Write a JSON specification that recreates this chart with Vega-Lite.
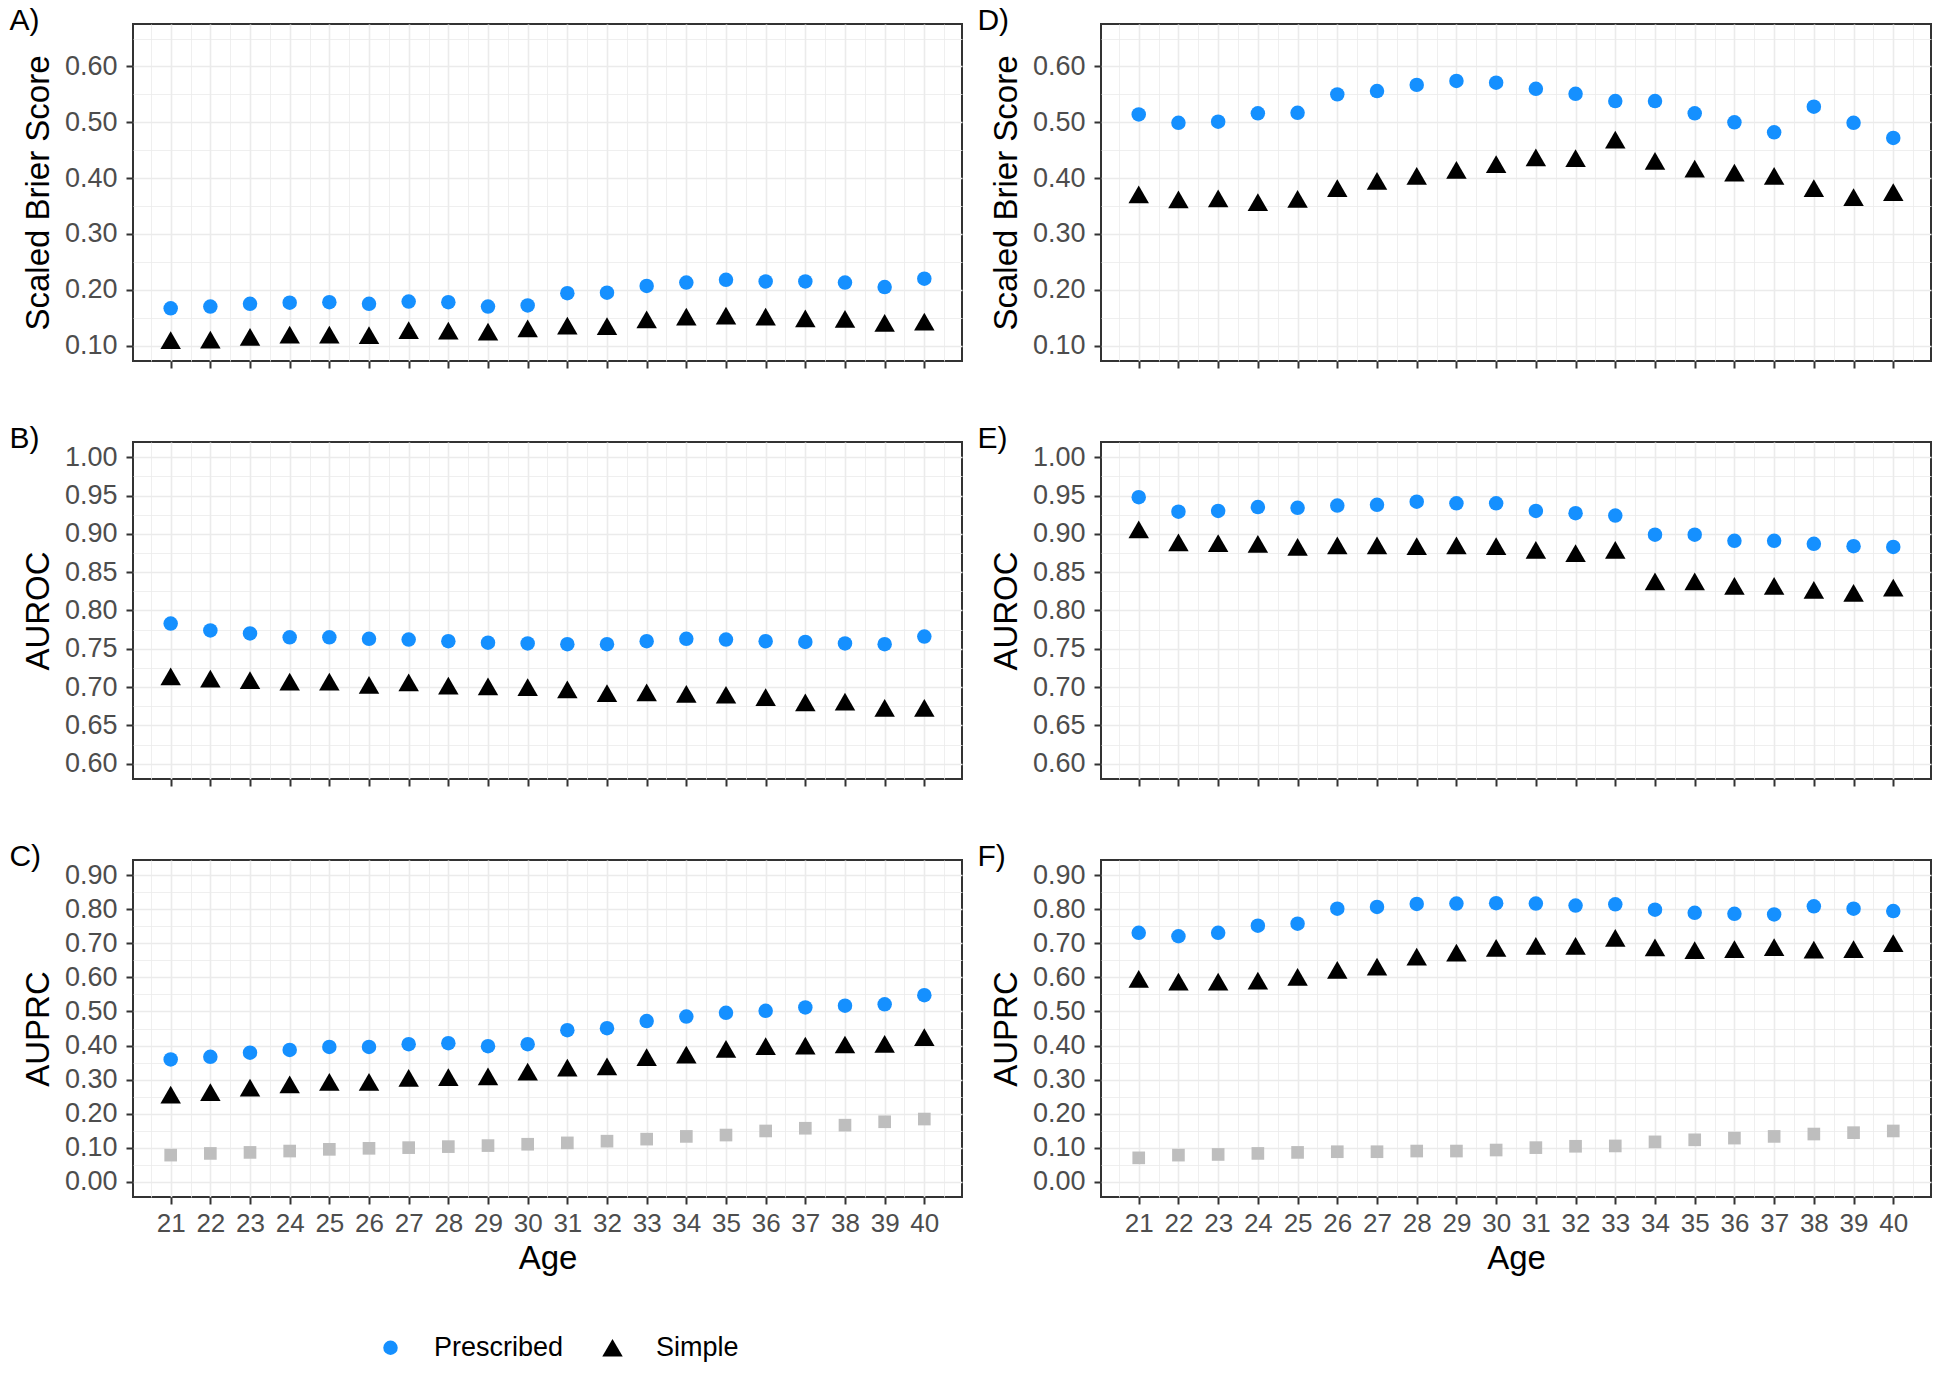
{
  "$schema": "https://vega.github.io/schema/vega-lite/v6.json",
  "background": "white",
  "padding": {"left": 8, "top": 5, "right": 10, "bottom": 5},
  "data": {"values": [
    {"p":"A","m":"Prescribed","a":21,"v":0.167},{"p":"A","m":"Prescribed","a":22,"v":0.170},{"p":"A","m":"Prescribed","a":23,"v":0.175},{"p":"A","m":"Prescribed","a":24,"v":0.177},{"p":"A","m":"Prescribed","a":25,"v":0.178},{"p":"A","m":"Prescribed","a":26,"v":0.175},{"p":"A","m":"Prescribed","a":27,"v":0.179},{"p":"A","m":"Prescribed","a":28,"v":0.178},{"p":"A","m":"Prescribed","a":29,"v":0.170},{"p":"A","m":"Prescribed","a":30,"v":0.172},{"p":"A","m":"Prescribed","a":31,"v":0.194},{"p":"A","m":"Prescribed","a":32,"v":0.195},{"p":"A","m":"Prescribed","a":33,"v":0.207},{"p":"A","m":"Prescribed","a":34,"v":0.213},{"p":"A","m":"Prescribed","a":35,"v":0.218},{"p":"A","m":"Prescribed","a":36,"v":0.215},{"p":"A","m":"Prescribed","a":37,"v":0.215},{"p":"A","m":"Prescribed","a":38,"v":0.213},{"p":"A","m":"Prescribed","a":39,"v":0.205},{"p":"A","m":"Prescribed","a":40,"v":0.220},
    {"p":"A","m":"Simple","a":21,"v":0.110},{"p":"A","m":"Simple","a":22,"v":0.111},{"p":"A","m":"Simple","a":23,"v":0.116},{"p":"A","m":"Simple","a":24,"v":0.120},{"p":"A","m":"Simple","a":25,"v":0.120},{"p":"A","m":"Simple","a":26,"v":0.119},{"p":"A","m":"Simple","a":27,"v":0.128},{"p":"A","m":"Simple","a":28,"v":0.127},{"p":"A","m":"Simple","a":29,"v":0.125},{"p":"A","m":"Simple","a":30,"v":0.131},{"p":"A","m":"Simple","a":31,"v":0.136},{"p":"A","m":"Simple","a":32,"v":0.135},{"p":"A","m":"Simple","a":33,"v":0.147},{"p":"A","m":"Simple","a":34,"v":0.152},{"p":"A","m":"Simple","a":35,"v":0.154},{"p":"A","m":"Simple","a":36,"v":0.152},{"p":"A","m":"Simple","a":37,"v":0.149},{"p":"A","m":"Simple","a":38,"v":0.148},{"p":"A","m":"Simple","a":39,"v":0.141},{"p":"A","m":"Simple","a":40,"v":0.143},
    {"p":"D","m":"Prescribed","a":21,"v":0.514},{"p":"D","m":"Prescribed","a":22,"v":0.499},{"p":"D","m":"Prescribed","a":23,"v":0.501},{"p":"D","m":"Prescribed","a":24,"v":0.516},{"p":"D","m":"Prescribed","a":25,"v":0.517},{"p":"D","m":"Prescribed","a":26,"v":0.550},{"p":"D","m":"Prescribed","a":27,"v":0.556},{"p":"D","m":"Prescribed","a":28,"v":0.567},{"p":"D","m":"Prescribed","a":29,"v":0.574},{"p":"D","m":"Prescribed","a":30,"v":0.571},{"p":"D","m":"Prescribed","a":31,"v":0.560},{"p":"D","m":"Prescribed","a":32,"v":0.551},{"p":"D","m":"Prescribed","a":33,"v":0.538},{"p":"D","m":"Prescribed","a":34,"v":0.538},{"p":"D","m":"Prescribed","a":35,"v":0.516},{"p":"D","m":"Prescribed","a":36,"v":0.500},{"p":"D","m":"Prescribed","a":37,"v":0.482},{"p":"D","m":"Prescribed","a":38,"v":0.528},{"p":"D","m":"Prescribed","a":39,"v":0.499},{"p":"D","m":"Prescribed","a":40,"v":0.472},
    {"p":"D","m":"Simple","a":21,"v":0.371},{"p":"D","m":"Simple","a":22,"v":0.362},{"p":"D","m":"Simple","a":23,"v":0.364},{"p":"D","m":"Simple","a":24,"v":0.357},{"p":"D","m":"Simple","a":25,"v":0.363},{"p":"D","m":"Simple","a":26,"v":0.382},{"p":"D","m":"Simple","a":27,"v":0.395},{"p":"D","m":"Simple","a":28,"v":0.404},{"p":"D","m":"Simple","a":29,"v":0.415},{"p":"D","m":"Simple","a":30,"v":0.425},{"p":"D","m":"Simple","a":31,"v":0.437},{"p":"D","m":"Simple","a":32,"v":0.436},{"p":"D","m":"Simple","a":33,"v":0.469},{"p":"D","m":"Simple","a":34,"v":0.431},{"p":"D","m":"Simple","a":35,"v":0.417},{"p":"D","m":"Simple","a":36,"v":0.410},{"p":"D","m":"Simple","a":37,"v":0.404},{"p":"D","m":"Simple","a":38,"v":0.382},{"p":"D","m":"Simple","a":39,"v":0.366},{"p":"D","m":"Simple","a":40,"v":0.375},
    {"p":"B","m":"Prescribed","a":21,"v":0.783},{"p":"B","m":"Prescribed","a":22,"v":0.774},{"p":"B","m":"Prescribed","a":23,"v":0.770},{"p":"B","m":"Prescribed","a":24,"v":0.765},{"p":"B","m":"Prescribed","a":25,"v":0.765},{"p":"B","m":"Prescribed","a":26,"v":0.763},{"p":"B","m":"Prescribed","a":27,"v":0.762},{"p":"B","m":"Prescribed","a":28,"v":0.760},{"p":"B","m":"Prescribed","a":29,"v":0.758},{"p":"B","m":"Prescribed","a":30,"v":0.757},{"p":"B","m":"Prescribed","a":31,"v":0.756},{"p":"B","m":"Prescribed","a":32,"v":0.756},{"p":"B","m":"Prescribed","a":33,"v":0.760},{"p":"B","m":"Prescribed","a":34,"v":0.763},{"p":"B","m":"Prescribed","a":35,"v":0.762},{"p":"B","m":"Prescribed","a":36,"v":0.760},{"p":"B","m":"Prescribed","a":37,"v":0.759},{"p":"B","m":"Prescribed","a":38,"v":0.757},{"p":"B","m":"Prescribed","a":39,"v":0.756},{"p":"B","m":"Prescribed","a":40,"v":0.766},
    {"p":"B","m":"Simple","a":21,"v":0.714},{"p":"B","m":"Simple","a":22,"v":0.711},{"p":"B","m":"Simple","a":23,"v":0.709},{"p":"B","m":"Simple","a":24,"v":0.707},{"p":"B","m":"Simple","a":25,"v":0.707},{"p":"B","m":"Simple","a":26,"v":0.703},{"p":"B","m":"Simple","a":27,"v":0.706},{"p":"B","m":"Simple","a":28,"v":0.702},{"p":"B","m":"Simple","a":29,"v":0.701},{"p":"B","m":"Simple","a":30,"v":0.700},{"p":"B","m":"Simple","a":31,"v":0.697},{"p":"B","m":"Simple","a":32,"v":0.692},{"p":"B","m":"Simple","a":33,"v":0.693},{"p":"B","m":"Simple","a":34,"v":0.691},{"p":"B","m":"Simple","a":35,"v":0.690},{"p":"B","m":"Simple","a":36,"v":0.687},{"p":"B","m":"Simple","a":37,"v":0.680},{"p":"B","m":"Simple","a":38,"v":0.681},{"p":"B","m":"Simple","a":39,"v":0.673},{"p":"B","m":"Simple","a":40,"v":0.673},
    {"p":"E","m":"Prescribed","a":21,"v":0.948},{"p":"E","m":"Prescribed","a":22,"v":0.929},{"p":"E","m":"Prescribed","a":23,"v":0.930},{"p":"E","m":"Prescribed","a":24,"v":0.935},{"p":"E","m":"Prescribed","a":25,"v":0.934},{"p":"E","m":"Prescribed","a":26,"v":0.937},{"p":"E","m":"Prescribed","a":27,"v":0.938},{"p":"E","m":"Prescribed","a":28,"v":0.942},{"p":"E","m":"Prescribed","a":29,"v":0.940},{"p":"E","m":"Prescribed","a":30,"v":0.940},{"p":"E","m":"Prescribed","a":31,"v":0.930},{"p":"E","m":"Prescribed","a":32,"v":0.927},{"p":"E","m":"Prescribed","a":33,"v":0.924},{"p":"E","m":"Prescribed","a":34,"v":0.899},{"p":"E","m":"Prescribed","a":35,"v":0.899},{"p":"E","m":"Prescribed","a":36,"v":0.891},{"p":"E","m":"Prescribed","a":37,"v":0.891},{"p":"E","m":"Prescribed","a":38,"v":0.887},{"p":"E","m":"Prescribed","a":39,"v":0.884},{"p":"E","m":"Prescribed","a":40,"v":0.883},
    {"p":"E","m":"Simple","a":21,"v":0.906},{"p":"E","m":"Simple","a":22,"v":0.889},{"p":"E","m":"Simple","a":23,"v":0.888},{"p":"E","m":"Simple","a":24,"v":0.887},{"p":"E","m":"Simple","a":25,"v":0.883},{"p":"E","m":"Simple","a":26,"v":0.885},{"p":"E","m":"Simple","a":27,"v":0.885},{"p":"E","m":"Simple","a":28,"v":0.884},{"p":"E","m":"Simple","a":29,"v":0.885},{"p":"E","m":"Simple","a":30,"v":0.884},{"p":"E","m":"Simple","a":31,"v":0.879},{"p":"E","m":"Simple","a":32,"v":0.875},{"p":"E","m":"Simple","a":33,"v":0.879},{"p":"E","m":"Simple","a":34,"v":0.838},{"p":"E","m":"Simple","a":35,"v":0.838},{"p":"E","m":"Simple","a":36,"v":0.832},{"p":"E","m":"Simple","a":37,"v":0.832},{"p":"E","m":"Simple","a":38,"v":0.827},{"p":"E","m":"Simple","a":39,"v":0.823},{"p":"E","m":"Simple","a":40,"v":0.830},
    {"p":"C","m":"Prescribed","a":21,"v":0.359},{"p":"C","m":"Prescribed","a":22,"v":0.367},{"p":"C","m":"Prescribed","a":23,"v":0.379},{"p":"C","m":"Prescribed","a":24,"v":0.387},{"p":"C","m":"Prescribed","a":25,"v":0.396},{"p":"C","m":"Prescribed","a":26,"v":0.396},{"p":"C","m":"Prescribed","a":27,"v":0.404},{"p":"C","m":"Prescribed","a":28,"v":0.407},{"p":"C","m":"Prescribed","a":29,"v":0.398},{"p":"C","m":"Prescribed","a":30,"v":0.404},{"p":"C","m":"Prescribed","a":31,"v":0.445},{"p":"C","m":"Prescribed","a":32,"v":0.451},{"p":"C","m":"Prescribed","a":33,"v":0.472},{"p":"C","m":"Prescribed","a":34,"v":0.485},{"p":"C","m":"Prescribed","a":35,"v":0.496},{"p":"C","m":"Prescribed","a":36,"v":0.502},{"p":"C","m":"Prescribed","a":37,"v":0.512},{"p":"C","m":"Prescribed","a":38,"v":0.517},{"p":"C","m":"Prescribed","a":39,"v":0.521},{"p":"C","m":"Prescribed","a":40,"v":0.548},
    {"p":"C","m":"Simple","a":21,"v":0.256},{"p":"C","m":"Simple","a":22,"v":0.263},{"p":"C","m":"Simple","a":23,"v":0.276},{"p":"C","m":"Simple","a":24,"v":0.286},{"p":"C","m":"Simple","a":25,"v":0.293},{"p":"C","m":"Simple","a":26,"v":0.293},{"p":"C","m":"Simple","a":27,"v":0.305},{"p":"C","m":"Simple","a":28,"v":0.307},{"p":"C","m":"Simple","a":29,"v":0.309},{"p":"C","m":"Simple","a":30,"v":0.323},{"p":"C","m":"Simple","a":31,"v":0.335},{"p":"C","m":"Simple","a":32,"v":0.339},{"p":"C","m":"Simple","a":33,"v":0.366},{"p":"C","m":"Simple","a":34,"v":0.373},{"p":"C","m":"Simple","a":35,"v":0.390},{"p":"C","m":"Simple","a":36,"v":0.398},{"p":"C","m":"Simple","a":37,"v":0.400},{"p":"C","m":"Simple","a":38,"v":0.403},{"p":"C","m":"Simple","a":39,"v":0.405},{"p":"C","m":"Simple","a":40,"v":0.425},
    {"p":"C","m":"Baseline","a":21,"v":0.078},{"p":"C","m":"Baseline","a":22,"v":0.083},{"p":"C","m":"Baseline","a":23,"v":0.086},{"p":"C","m":"Baseline","a":24,"v":0.090},{"p":"C","m":"Baseline","a":25,"v":0.095},{"p":"C","m":"Baseline","a":26,"v":0.098},{"p":"C","m":"Baseline","a":27,"v":0.100},{"p":"C","m":"Baseline","a":28,"v":0.103},{"p":"C","m":"Baseline","a":29,"v":0.106},{"p":"C","m":"Baseline","a":30,"v":0.110},{"p":"C","m":"Baseline","a":31,"v":0.114},{"p":"C","m":"Baseline","a":32,"v":0.119},{"p":"C","m":"Baseline","a":33,"v":0.125},{"p":"C","m":"Baseline","a":34,"v":0.133},{"p":"C","m":"Baseline","a":35,"v":0.137},{"p":"C","m":"Baseline","a":36,"v":0.149},{"p":"C","m":"Baseline","a":37,"v":0.157},{"p":"C","m":"Baseline","a":38,"v":0.166},{"p":"C","m":"Baseline","a":39,"v":0.176},{"p":"C","m":"Baseline","a":40,"v":0.184},
    {"p":"F","m":"Prescribed","a":21,"v":0.731},{"p":"F","m":"Prescribed","a":22,"v":0.721},{"p":"F","m":"Prescribed","a":23,"v":0.731},{"p":"F","m":"Prescribed","a":24,"v":0.752},{"p":"F","m":"Prescribed","a":25,"v":0.758},{"p":"F","m":"Prescribed","a":26,"v":0.802},{"p":"F","m":"Prescribed","a":27,"v":0.807},{"p":"F","m":"Prescribed","a":28,"v":0.816},{"p":"F","m":"Prescribed","a":29,"v":0.817},{"p":"F","m":"Prescribed","a":30,"v":0.818},{"p":"F","m":"Prescribed","a":31,"v":0.817},{"p":"F","m":"Prescribed","a":32,"v":0.811},{"p":"F","m":"Prescribed","a":33,"v":0.815},{"p":"F","m":"Prescribed","a":34,"v":0.799},{"p":"F","m":"Prescribed","a":35,"v":0.790},{"p":"F","m":"Prescribed","a":36,"v":0.787},{"p":"F","m":"Prescribed","a":37,"v":0.785},{"p":"F","m":"Prescribed","a":38,"v":0.809},{"p":"F","m":"Prescribed","a":39,"v":0.802},{"p":"F","m":"Prescribed","a":40,"v":0.795},
    {"p":"F","m":"Simple","a":21,"v":0.596},{"p":"F","m":"Simple","a":22,"v":0.588},{"p":"F","m":"Simple","a":23,"v":0.588},{"p":"F","m":"Simple","a":24,"v":0.591},{"p":"F","m":"Simple","a":25,"v":0.602},{"p":"F","m":"Simple","a":26,"v":0.622},{"p":"F","m":"Simple","a":27,"v":0.632},{"p":"F","m":"Simple","a":28,"v":0.661},{"p":"F","m":"Simple","a":29,"v":0.673},{"p":"F","m":"Simple","a":30,"v":0.687},{"p":"F","m":"Simple","a":31,"v":0.693},{"p":"F","m":"Simple","a":32,"v":0.693},{"p":"F","m":"Simple","a":33,"v":0.716},{"p":"F","m":"Simple","a":34,"v":0.688},{"p":"F","m":"Simple","a":35,"v":0.680},{"p":"F","m":"Simple","a":36,"v":0.683},{"p":"F","m":"Simple","a":37,"v":0.689},{"p":"F","m":"Simple","a":38,"v":0.682},{"p":"F","m":"Simple","a":39,"v":0.683},{"p":"F","m":"Simple","a":40,"v":0.701},
    {"p":"F","m":"Baseline","a":21,"v":0.070},{"p":"F","m":"Baseline","a":22,"v":0.078},{"p":"F","m":"Baseline","a":23,"v":0.080},{"p":"F","m":"Baseline","a":24,"v":0.083},{"p":"F","m":"Baseline","a":25,"v":0.086},{"p":"F","m":"Baseline","a":26,"v":0.088},{"p":"F","m":"Baseline","a":27,"v":0.088},{"p":"F","m":"Baseline","a":28,"v":0.090},{"p":"F","m":"Baseline","a":29,"v":0.090},{"p":"F","m":"Baseline","a":30,"v":0.093},{"p":"F","m":"Baseline","a":31,"v":0.100},{"p":"F","m":"Baseline","a":32,"v":0.104},{"p":"F","m":"Baseline","a":33,"v":0.105},{"p":"F","m":"Baseline","a":34,"v":0.117},{"p":"F","m":"Baseline","a":35,"v":0.123},{"p":"F","m":"Baseline","a":36,"v":0.128},{"p":"F","m":"Baseline","a":37,"v":0.133},{"p":"F","m":"Baseline","a":38,"v":0.140},{"p":"F","m":"Baseline","a":39,"v":0.144},{"p":"F","m":"Baseline","a":40,"v":0.149}
  ]},
  "columns": 2,
  "spacing": {"row": 53, "column": 13},
  "concat": [
    {
      "width": 829, "height": 337,
      "title": "A)",
      "transform": [{"filter": "datum.p === 'A'"}],
      "mark": {"type": "point", "filled": true, "opacity": 1, "strokeWidth": 0},
      "encoding": {
        "x": {"field": "a", "type": "quantitative", "scale": {"domain": [20.05, 40.95], "nice": false, "zero": false},
          "axis": {"values": [20.5,21,21.5,22,22.5,23,23.5,24,24.5,25,25.5,26,26.5,27,27.5,28,28.5,29,29.5,30,30.5,31,31.5,32,32.5,33,33.5,34,34.5,35,35.5,36,36.5,37,37.5,38,38.5,39,39.5,40,40.5], "labels": false, "title": null,
            "gridWidth": {"condition": {"test": "datum.value % 1 === 0", "value": 1.6}, "value": 0.8},
            "tickOpacity": {"condition": {"test": "datum.value % 1 === 0", "value": 1}, "value": 0}}},
        "y": {"field": "v", "type": "quantitative", "scale": {"domain": [0.0726, 0.676], "nice": false, "zero": false},
          "axis": {"title": "Scaled Brier Score", "values": [0.1,0.15,0.2,0.25,0.3,0.35,0.4,0.45,0.5,0.55,0.6,0.65], "labelOverlap": false,
            "labelExpr": "round(datum.value*20) % 2 === 0 ? format(datum.value, '.2f') : ''",
            "gridWidth": {"condition": {"test": "round(datum.value*20) % 2 === 0", "value": 1.6}, "value": 0.8},
            "tickOpacity": {"condition": {"test": "round(datum.value*20) % 2 === 0", "value": 1}, "value": 0}}},
        "color": {"field": "m", "type": "nominal", "scale": {"domain": ["Prescribed","Simple","Baseline"], "range": ["#1590ff","#000000","#bebebe"]}, "legend": {"values": ["Prescribed","Simple"], "title": null, "orient": "none", "direction": "horizontal", "legendX": 244, "legendY": 1310}},
        "shape": {"field": "m", "type": "nominal", "scale": {"domain": ["Prescribed","Simple","Baseline"], "range": ["circle","triangle-up","square"]}, "legend": {"values": ["Prescribed","Simple"], "title": null, "orient": "none", "direction": "horizontal", "legendX": 244, "legendY": 1310}},
        "size": {"field": "m", "type": "nominal", "scale": {"type": "ordinal", "domain": ["Prescribed","Simple","Baseline"], "range": [210, 420, 160]}, "legend": {"values": ["Prescribed","Simple"], "title": null, "orient": "none", "direction": "horizontal", "legendX": 244, "legendY": 1310}}
      }
    },
    {
      "width": 830, "height": 337,
      "title": "D)",
      "transform": [{"filter": "datum.p === 'D'"}],
      "mark": {"type": "point", "filled": true, "opacity": 1, "strokeWidth": 0},
      "encoding": {
        "x": {"field": "a", "type": "quantitative", "scale": {"domain": [20.05, 40.95], "nice": false, "zero": false},
          "axis": {"values": [20.5,21,21.5,22,22.5,23,23.5,24,24.5,25,25.5,26,26.5,27,27.5,28,28.5,29,29.5,30,30.5,31,31.5,32,32.5,33,33.5,34,34.5,35,35.5,36,36.5,37,37.5,38,38.5,39,39.5,40,40.5], "labels": false, "title": null,
            "gridWidth": {"condition": {"test": "datum.value % 1 === 0", "value": 1.6}, "value": 0.8},
            "tickOpacity": {"condition": {"test": "datum.value % 1 === 0", "value": 1}, "value": 0}}},
        "y": {"field": "v", "type": "quantitative", "scale": {"domain": [0.0726, 0.676], "nice": false, "zero": false},
          "axis": {"title": "Scaled Brier Score", "values": [0.1,0.15,0.2,0.25,0.3,0.35,0.4,0.45,0.5,0.55,0.6,0.65], "labelOverlap": false,
            "labelExpr": "round(datum.value*20) % 2 === 0 ? format(datum.value, '.2f') : ''",
            "gridWidth": {"condition": {"test": "round(datum.value*20) % 2 === 0", "value": 1.6}, "value": 0.8},
            "tickOpacity": {"condition": {"test": "round(datum.value*20) % 2 === 0", "value": 1}, "value": 0}}},
        "color": {"field": "m", "type": "nominal", "scale": {"domain": ["Prescribed","Simple","Baseline"], "range": ["#1590ff","#000000","#bebebe"]}, "legend": {"values": ["Prescribed","Simple"], "title": null, "orient": "none", "direction": "horizontal", "legendX": 244, "legendY": 1310}},
        "shape": {"field": "m", "type": "nominal", "scale": {"domain": ["Prescribed","Simple","Baseline"], "range": ["circle","triangle-up","square"]}, "legend": {"values": ["Prescribed","Simple"], "title": null, "orient": "none", "direction": "horizontal", "legendX": 244, "legendY": 1310}},
        "size": {"field": "m", "type": "nominal", "scale": {"type": "ordinal", "domain": ["Prescribed","Simple","Baseline"], "range": [210, 420, 160]}, "legend": {"values": ["Prescribed","Simple"], "title": null, "orient": "none", "direction": "horizontal", "legendX": 244, "legendY": 1310}}
      }
    },
    {
      "width": 829, "height": 337,
      "title": "B)",
      "transform": [{"filter": "datum.p === 'B'"}],
      "mark": {"type": "point", "filled": true, "opacity": 1, "strokeWidth": 0},
      "encoding": {
        "x": {"field": "a", "type": "quantitative", "scale": {"domain": [20.05, 40.95], "nice": false, "zero": false},
          "axis": {"values": [20.5,21,21.5,22,22.5,23,23.5,24,24.5,25,25.5,26,26.5,27,27.5,28,28.5,29,29.5,30,30.5,31,31.5,32,32.5,33,33.5,34,34.5,35,35.5,36,36.5,37,37.5,38,38.5,39,39.5,40,40.5], "labels": false, "title": null,
            "gridWidth": {"condition": {"test": "datum.value % 1 === 0", "value": 1.6}, "value": 0.8},
            "tickOpacity": {"condition": {"test": "datum.value % 1 === 0", "value": 1}, "value": 0}}},
        "y": {"field": "v", "type": "quantitative", "scale": {"domain": [0.58, 1.02], "nice": false, "zero": false},
          "axis": {"title": "AUROC", "values": [0.6,0.625,0.65,0.675,0.7,0.725,0.75,0.775,0.8,0.825,0.85,0.875,0.9,0.925,0.95,0.975,1.0], "labelOverlap": false,
            "labelExpr": "round(datum.value*40) % 2 === 0 ? format(datum.value, '.2f') : ''",
            "gridWidth": {"condition": {"test": "round(datum.value*40) % 2 === 0", "value": 1.6}, "value": 0.8},
            "tickOpacity": {"condition": {"test": "round(datum.value*40) % 2 === 0", "value": 1}, "value": 0}}},
        "color": {"field": "m", "type": "nominal", "scale": {"domain": ["Prescribed","Simple","Baseline"], "range": ["#1590ff","#000000","#bebebe"]}, "legend": {"values": ["Prescribed","Simple"], "title": null, "orient": "none", "direction": "horizontal", "legendX": 244, "legendY": 1310}},
        "shape": {"field": "m", "type": "nominal", "scale": {"domain": ["Prescribed","Simple","Baseline"], "range": ["circle","triangle-up","square"]}, "legend": {"values": ["Prescribed","Simple"], "title": null, "orient": "none", "direction": "horizontal", "legendX": 244, "legendY": 1310}},
        "size": {"field": "m", "type": "nominal", "scale": {"type": "ordinal", "domain": ["Prescribed","Simple","Baseline"], "range": [210, 420, 160]}, "legend": {"values": ["Prescribed","Simple"], "title": null, "orient": "none", "direction": "horizontal", "legendX": 244, "legendY": 1310}}
      }
    },
    {
      "width": 830, "height": 337,
      "title": "E)",
      "transform": [{"filter": "datum.p === 'E'"}],
      "mark": {"type": "point", "filled": true, "opacity": 1, "strokeWidth": 0},
      "encoding": {
        "x": {"field": "a", "type": "quantitative", "scale": {"domain": [20.05, 40.95], "nice": false, "zero": false},
          "axis": {"values": [20.5,21,21.5,22,22.5,23,23.5,24,24.5,25,25.5,26,26.5,27,27.5,28,28.5,29,29.5,30,30.5,31,31.5,32,32.5,33,33.5,34,34.5,35,35.5,36,36.5,37,37.5,38,38.5,39,39.5,40,40.5], "labels": false, "title": null,
            "gridWidth": {"condition": {"test": "datum.value % 1 === 0", "value": 1.6}, "value": 0.8},
            "tickOpacity": {"condition": {"test": "datum.value % 1 === 0", "value": 1}, "value": 0}}},
        "y": {"field": "v", "type": "quantitative", "scale": {"domain": [0.58, 1.02], "nice": false, "zero": false},
          "axis": {"title": "AUROC", "values": [0.6,0.625,0.65,0.675,0.7,0.725,0.75,0.775,0.8,0.825,0.85,0.875,0.9,0.925,0.95,0.975,1.0], "labelOverlap": false,
            "labelExpr": "round(datum.value*40) % 2 === 0 ? format(datum.value, '.2f') : ''",
            "gridWidth": {"condition": {"test": "round(datum.value*40) % 2 === 0", "value": 1.6}, "value": 0.8},
            "tickOpacity": {"condition": {"test": "round(datum.value*40) % 2 === 0", "value": 1}, "value": 0}}},
        "color": {"field": "m", "type": "nominal", "scale": {"domain": ["Prescribed","Simple","Baseline"], "range": ["#1590ff","#000000","#bebebe"]}, "legend": {"values": ["Prescribed","Simple"], "title": null, "orient": "none", "direction": "horizontal", "legendX": 244, "legendY": 1310}},
        "shape": {"field": "m", "type": "nominal", "scale": {"domain": ["Prescribed","Simple","Baseline"], "range": ["circle","triangle-up","square"]}, "legend": {"values": ["Prescribed","Simple"], "title": null, "orient": "none", "direction": "horizontal", "legendX": 244, "legendY": 1310}},
        "size": {"field": "m", "type": "nominal", "scale": {"type": "ordinal", "domain": ["Prescribed","Simple","Baseline"], "range": [210, 420, 160]}, "legend": {"values": ["Prescribed","Simple"], "title": null, "orient": "none", "direction": "horizontal", "legendX": 244, "legendY": 1310}}
      }
    },
    {
      "width": 829, "height": 337,
      "title": "C)",
      "transform": [{"filter": "datum.p === 'C'"}],
      "mark": {"type": "point", "filled": true, "opacity": 1, "strokeWidth": 0},
      "encoding": {
        "x": {"field": "a", "type": "quantitative", "scale": {"domain": [20.05, 40.95], "nice": false, "zero": false},
          "axis": {"values": [20.5,21,21.5,22,22.5,23,23.5,24,24.5,25,25.5,26,26.5,27,27.5,28,28.5,29,29.5,30,30.5,31,31.5,32,32.5,33,33.5,34,34.5,35,35.5,36,36.5,37,37.5,38,38.5,39,39.5,40,40.5], "title": "Age", "labelOverlap": false, "labelFlush": false,
            "labelExpr": "datum.value % 1 === 0 ? format(datum.value, 'd') : ''",
            "gridWidth": {"condition": {"test": "datum.value % 1 === 0", "value": 1.6}, "value": 0.8},
            "tickOpacity": {"condition": {"test": "datum.value % 1 === 0", "value": 1}, "value": 0}}},
        "y": {"field": "v", "type": "quantitative", "scale": {"domain": [-0.045, 0.945], "nice": false, "zero": false},
          "axis": {"title": "AUPRC", "values": [0,0.05,0.1,0.15,0.2,0.25,0.3,0.35,0.4,0.45,0.5,0.55,0.6,0.65,0.7,0.75,0.8,0.85,0.9], "labelOverlap": false,
            "labelExpr": "round(datum.value*20) % 2 === 0 ? format(datum.value, '.2f') : ''",
            "gridWidth": {"condition": {"test": "round(datum.value*20) % 2 === 0", "value": 1.6}, "value": 0.8},
            "tickOpacity": {"condition": {"test": "round(datum.value*20) % 2 === 0", "value": 1}, "value": 0}}},
        "color": {"field": "m", "type": "nominal", "scale": {"domain": ["Prescribed","Simple","Baseline"], "range": ["#1590ff","#000000","#bebebe"]}, "legend": {"values": ["Prescribed","Simple"], "title": null, "orient": "none", "direction": "horizontal", "legendX": 244, "legendY": 1310}},
        "shape": {"field": "m", "type": "nominal", "scale": {"domain": ["Prescribed","Simple","Baseline"], "range": ["circle","triangle-up","square"]}, "legend": {"values": ["Prescribed","Simple"], "title": null, "orient": "none", "direction": "horizontal", "legendX": 244, "legendY": 1310}},
        "size": {"field": "m", "type": "nominal", "scale": {"type": "ordinal", "domain": ["Prescribed","Simple","Baseline"], "range": [210, 420, 160]}, "legend": {"values": ["Prescribed","Simple"], "title": null, "orient": "none", "direction": "horizontal", "legendX": 244, "legendY": 1310}}
      }
    },
    {
      "width": 830, "height": 337,
      "title": "F)",
      "transform": [{"filter": "datum.p === 'F'"}],
      "mark": {"type": "point", "filled": true, "opacity": 1, "strokeWidth": 0},
      "encoding": {
        "x": {"field": "a", "type": "quantitative", "scale": {"domain": [20.05, 40.95], "nice": false, "zero": false},
          "axis": {"values": [20.5,21,21.5,22,22.5,23,23.5,24,24.5,25,25.5,26,26.5,27,27.5,28,28.5,29,29.5,30,30.5,31,31.5,32,32.5,33,33.5,34,34.5,35,35.5,36,36.5,37,37.5,38,38.5,39,39.5,40,40.5], "title": "Age", "labelOverlap": false, "labelFlush": false,
            "labelExpr": "datum.value % 1 === 0 ? format(datum.value, 'd') : ''",
            "gridWidth": {"condition": {"test": "datum.value % 1 === 0", "value": 1.6}, "value": 0.8},
            "tickOpacity": {"condition": {"test": "datum.value % 1 === 0", "value": 1}, "value": 0}}},
        "y": {"field": "v", "type": "quantitative", "scale": {"domain": [-0.045, 0.945], "nice": false, "zero": false},
          "axis": {"title": "AUPRC", "values": [0,0.05,0.1,0.15,0.2,0.25,0.3,0.35,0.4,0.45,0.5,0.55,0.6,0.65,0.7,0.75,0.8,0.85,0.9], "labelOverlap": false,
            "labelExpr": "round(datum.value*20) % 2 === 0 ? format(datum.value, '.2f') : ''",
            "gridWidth": {"condition": {"test": "round(datum.value*20) % 2 === 0", "value": 1.6}, "value": 0.8},
            "tickOpacity": {"condition": {"test": "round(datum.value*20) % 2 === 0", "value": 1}, "value": 0}}},
        "color": {"field": "m", "type": "nominal", "scale": {"domain": ["Prescribed","Simple","Baseline"], "range": ["#1590ff","#000000","#bebebe"]}, "legend": {"values": ["Prescribed","Simple"], "title": null, "orient": "none", "direction": "horizontal", "legendX": 244, "legendY": 1310}},
        "shape": {"field": "m", "type": "nominal", "scale": {"domain": ["Prescribed","Simple","Baseline"], "range": ["circle","triangle-up","square"]}, "legend": {"values": ["Prescribed","Simple"], "title": null, "orient": "none", "direction": "horizontal", "legendX": 244, "legendY": 1310}},
        "size": {"field": "m", "type": "nominal", "scale": {"type": "ordinal", "domain": ["Prescribed","Simple","Baseline"], "range": [210, 420, 160]}, "legend": {"values": ["Prescribed","Simple"], "title": null, "orient": "none", "direction": "horizontal", "legendX": 244, "legendY": 1310}}
      }
    }
  ],
  "config": {
    "font": "Liberation Sans",
    "view": {"stroke": "#333333", "strokeWidth": 2},
    "axis": {"labelFont": "Liberation Sans", "labelFontSize": 26, "labelColor": "#4d4d4d", "tickColor": "#333333", "tickSize": 7, "tickWidth": 2, "domain": false, "gridColor": "#ebebeb", "titleFont": "Liberation Sans", "titleFontSize": 33, "titleFontWeight": "normal", "titleColor": "#000000", "labelPadding": 6},
    "axisY": {"labelFontSize": 27, "labelPadding": 9, "titlePadding": 9},
    "axisX": {"titlePadding": 6},
    "title": {"font": "Liberation Sans", "fontSize": 30, "fontWeight": "normal", "color": "#000000", "anchor": "start", "frame": "bounds", "baseline": "alphabetic", "offset": 0, "dx": -13, "dy": 16},
    "legend": {"labelFont": "Liberation Sans", "labelFontSize": 27, "labelColor": "#000000", "labelOffset": 30, "columnPadding": 35, "symbolStrokeWidth": 0}
  }
}
